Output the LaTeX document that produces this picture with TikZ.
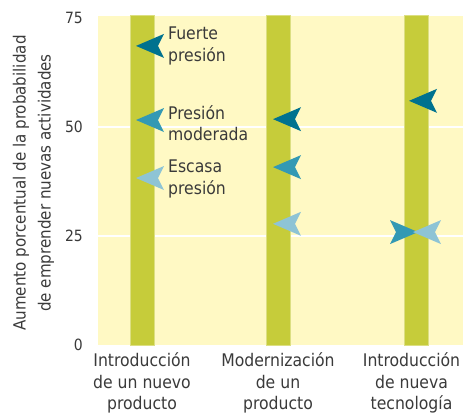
\documentclass[tikz,border=0pt]{standalone}
\usepackage{fontspec}
\setmainfont{DejaVu Sans Condensed}
\usetikzlibrary{positioning}
\definecolor{fondo}{HTML}{FFF9C4}
\definecolor{barra}{HTML}{C6CC3A}
\definecolor{bordebarra}{HTML}{DCDF82}
\definecolor{fuerte}{HTML}{00728F}
\definecolor{moderada}{HTML}{3399B4}
\definecolor{escasa}{HTML}{8EC4D5}
\definecolor{texto}{HTML}{3A3A3A}
\tikzset{
  barra/.style={fill=barra, draw=bordebarra, line width=0.8pt},
  rotulo/.style={text=texto, inner sep=0pt, font=\fontsize{17.4}{21.7}\selectfont},
  escala/.style={rotulo, anchor=east, font=\fontsize{15.5}{18}\selectfont},
  pics/marca/.style={code={\fill[#1] (0,0) -- (28pt,12pt) -- (22pt,0) -- (28pt,-12pt) -- cycle;}}
}
\begin{document}
\begin{tikzpicture}[x=1pt, y=1pt]
  \useasboundingbox (0,0) rectangle (463,418);
  \node[rotulo, rotate=90, align=center, font=\fontsize{16.8}{25}\selectfont] (eje) at (33.5,235)
    {Aumento porcentual de la probabilidad\\de emprender nuevas actividades};
  \begin{scope}[shift={(98pt,73pt)}, x=1pt, y=4.36pt]
    \fill[fondo] (0,0) rectangle (370,75.5);
    \foreach \v in {25,50}
      \draw[white, line width=2pt] (0,\v) -- (370,\v);
    \foreach \v in {0,25,50,75}
      \node[escala] (e\v) at (-15,\v) {\v};
    \draw[barra] (32,0) rectangle (56,75.5);
    \draw[barra] (168,0) rectangle (192,75.5);
    \draw[barra] (306,0) rectangle (330,75.5);
    % introduccion de un nuevo producto
    \pic at (38,68.6) {marca=fuerte};
    \pic at (38,51.6) {marca=moderada};
    \pic at (38,38.3) {marca=escasa};
    \node[rotulo, anchor=west, align=left] (fuerte) at (70,68.6) {Fuerte\\presión};
    \node[rotulo, anchor=west, align=left] (moderada) at (70,50.9) {Presión\\moderada};
    \node[rotulo, anchor=west, align=left] (escasa) at (70,38.1) {Escasa\\presión};
    % modernizacion de un producto
    \pic at (175,51.8) {marca=fuerte};
    \pic at (175,40.8) {marca=moderada};
    \pic at (175,27.8) {marca=escasa};
    % introduccion de nueva tecnologia
    \pic at (311,56) {marca=fuerte};
    \pic[xscale=-1] at (320,25.9) {marca=moderada};
    \pic at (315,25.9) {marca=escasa};
    \node[rotulo, anchor=base, align=center] (producto) at (44,-14.9)
      {Introducción\\de un nuevo\\producto};
    \node[rotulo, anchor=base, align=center] (moderniza) at (180,-14.9)
      {Modernización\\de un\\producto};
    \node[rotulo, anchor=base, align=center] (tecnologia) at (313.5,-14.9)
      {Introducción\\de nueva\\tecnología};
  \end{scope}
\end{tikzpicture}
\end{document}
